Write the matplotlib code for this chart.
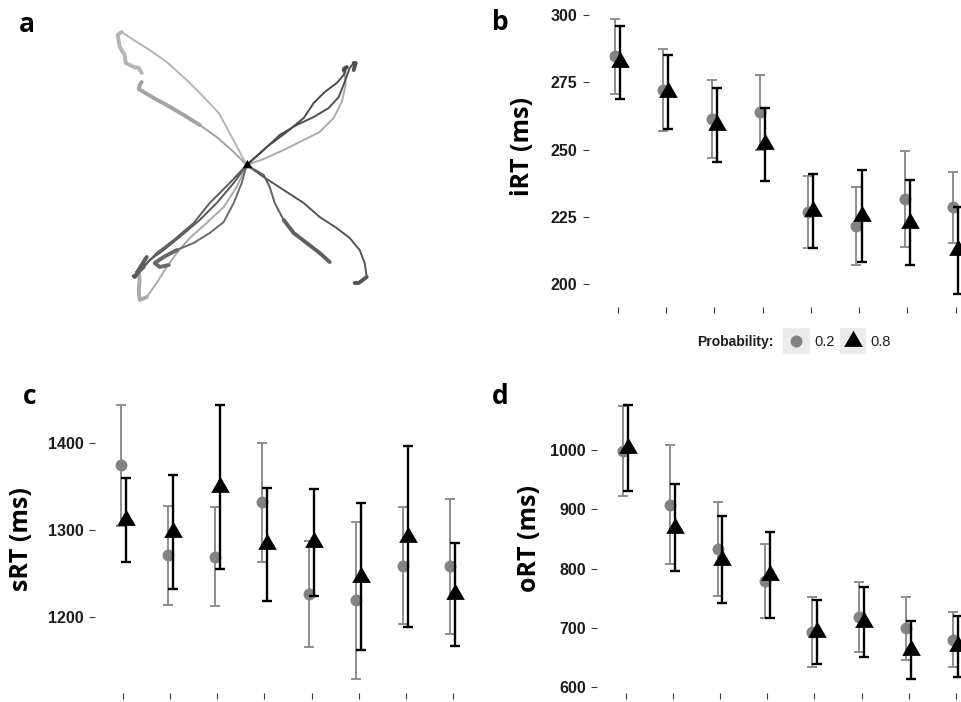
import numpy as np
import matplotlib.pyplot as plt
from matplotlib.lines import Line2D
from matplotlib.patches import Rectangle
from matplotlib.path import Path

# ---- data -------------------------------------------------------------
blocks = np.arange(1, 9)

# iRT (ms): mean and error bar limits per block, for each probability
irt_mean_02 = [284.6, 272.2, 261.4, 263.8, 226.8, 221.7, 231.5, 228.5]
irt_lo_02 = [270.8, 256.9, 246.9, 249.9, 213.4, 207.2, 213.7, 215.3]
irt_hi_02 = [298.4, 287.5, 275.9, 277.7, 240.2, 236.1, 249.3, 241.7]
irt_mean_08 = [282.5, 271.3, 259.1, 252.0, 227.2, 225.3, 222.8, 212.5]
irt_lo_08 = [268.9, 257.5, 245.2, 238.4, 213.4, 208.3, 206.9, 196.4]
irt_hi_08 = [296.0, 285.1, 273.0, 265.5, 241.0, 242.2, 238.7, 228.6]

# sRT (ms)
srt_mean_02 = [1374.6, 1271.3, 1269.7, 1332.0, 1226.8, 1219.3, 1259.3, 1258.5]
srt_lo_02 = [1305.4, 1214.2, 1213.0, 1263.6, 1165.9, 1128.7, 1191.9, 1180.5]
srt_hi_02 = [1443.7, 1328.4, 1326.4, 1400.4, 1287.7, 1310.0, 1326.8, 1336.4]
srt_mean_08 = [1311.9, 1298.3, 1349.8, 1283.7, 1286.2, 1246.6, 1292.7, 1226.3]
srt_lo_08 = [1263.2, 1233.0, 1255.2, 1218.8, 1224.5, 1162.1, 1188.5, 1167.4]
srt_hi_08 = [1360.5, 1363.6, 1444.4, 1348.7, 1347.9, 1331.0, 1396.9, 1285.1]

# oRT (ms)
ort_mean_02 = [998.6, 908.1, 833.1, 779.2, 692.7, 718.5, 699.4, 680.6]
ort_lo_02 = [923.0, 807.3, 753.9, 717.4, 633.7, 660.1, 646.1, 634.8]
ort_hi_02 = [1074.2, 1009.0, 912.4, 841.0, 751.7, 777.0, 752.8, 726.4]
ort_mean_08 = [1003.0, 869.1, 814.9, 789.3, 693.5, 710.7, 663.0, 669.4]
ort_lo_08 = [930.3, 796.1, 741.6, 717.4, 640.0, 651.7, 613.5, 618.0]
ort_hi_08 = [1075.8, 942.1, 888.2, 861.2, 747.0, 769.7, 712.4, 720.8]

# example cursor trajectories (px, relative to the start point, y up)
traj_a_x = [0, -8, -17, -28, -43, -60, -80, -97, -113, -125, -129, -127, -122, -121, -113, -108, -105]
traj_a_y = [0, 15, 32, 52, 68, 85, 103, 115, 125, 133, 130, 118, 110, 102, 98, 97, 92]
traj_b_x = [0, -13, -30, -47, -63, -80, -93, -103, -108, -107, -105]
traj_b_y = [0, 13, 28, 40, 50, 60, 67, 73, 76, 80, 83]
traj_c1_x = [0, 17, 33, 50, 67, 82, 92, 98, 103, 107, 109, 107]
traj_c1_y = [0, 15, 30, 40, 48, 57, 68, 83, 97, 102, 102, 95]
traj_c2_x = [0, 20, 40, 57, 67, 78, 90, 97, 100, 97]
traj_c2_y = [0, 18, 33, 47, 62, 73, 82, 90, 98, 95]
traj_c3_x = [0, 17, 37, 57, 73, 87, 95, 99, 98, 97]
traj_c3_y = [0, 6, 15, 25, 33, 47, 63, 80, 92, 97]
traj_d1_x = [0, 17, 37, 57, 73, 90, 103, 113, 118, 120, 112, 108]
traj_d1_y = [0, -12, -25, -38, -52, -63, -73, -85, -98, -112, -118, -118]
traj_d2_x = [0, 17, 23, 28, 37, 47, 60, 73, 83]
traj_d2_y = [0, -10, -22, -38, -55, -68, -78, -88, -97]
traj_l1_x = [0, -13, -30, -47, -67, -83, -97, -105, -112, -113]
traj_l1_y = [0, -18, -38, -55, -72, -85, -95, -103, -112, -111]
traj_l2_x = [0, -5, -13, -23, -37, -53, -70, -83, -92, -87, -78]
traj_l2_y = [0, -18, -38, -57, -68, -78, -85, -92, -98, -102, -100]
traj_l3_x = [0, -10, -23, -40, -57, -70, -80, -90, -100, -107, -108, -107, -108]
traj_l3_y = [0, -22, -42, -58, -73, -88, -102, -118, -132, -135, -125, -115, -108]
traj_l4_x = [0, -17, -37, -53, -73, -90, -103, -110, -102, -100]
traj_l4_y = [0, -18, -38, -58, -75, -88, -102, -108, -95, -92]

# ---- styling ----------------------------------------------------------
W, H = 962, 702
GRAY = "#838383"
GRAY_BAR = "#8e8e8e"
TICK_FONT = dict(family="Liberation Sans", weight="bold", size=11.5, color="#1c1c1c")
LABEL_FONT = dict(family="Open Sans", weight="bold", size=18, color="black")

# equilateral triangle marker centred on its centroid
tri = Path([(-1, -0.577), (1, -0.577), (0, 1.155), (-1, -0.577)],
           [Path.MOVETO, Path.LINETO, Path.LINETO, Path.CLOSEPOLY])


def fx(px):
    return px / W


def fy(py):
    return 1 - py / H


def box(left, top, right, bottom):
    return [fx(left), fy(bottom), (right - left) / W, (bottom - top) / H]


fig = plt.figure(figsize=(W / 100, H / 100), dpi=100)


def rt_panel(rect, ylim, yticks, m02, lo02, hi02, m08, lo08, hi08):
    ax = fig.add_axes(rect)
    m02, lo02, hi02 = map(np.asarray, (m02, lo02, hi02))
    m08, lo08, hi08 = map(np.asarray, (m08, lo08, hi08))
    ax.errorbar(blocks - 0.055, m02, yerr=[m02 - lo02, hi02 - m02], fmt="none",
                ecolor=GRAY_BAR, elinewidth=1.4, capsize=3.3, capthick=1.4, zorder=2)
    ax.plot(blocks - 0.055, m02, "o", color=GRAY, markersize=8.6, markeredgewidth=0, zorder=3)
    ax.errorbar(blocks + 0.05, m08, yerr=[m08 - lo08, hi08 - m08], fmt="none",
                ecolor="black", elinewidth=1.7, capsize=3.3, capthick=1.7, zorder=4)
    ax.plot(blocks + 0.05, m08, marker=tri, linestyle="none", color="black",
            markersize=15.5, markeredgewidth=0, zorder=5)
    ax.set_xlim(0.4, 8.6)
    ax.set_ylim(*ylim)
    ax.set_xticks(blocks)
    ax.set_xticklabels([])
    ax.set_yticks(yticks)
    ax.set_yticklabels([str(t) for t in yticks], fontdict=TICK_FONT)
    ax.tick_params(axis="both", direction="out", length=4.3, width=0.8, color="#3a3a3a")
    ax.tick_params(axis="y", pad=4)
    for s in ax.spines.values():
        s.set_visible(False)
    ax.patch.set_alpha(0)
    return ax


# ---- panel a: example trajectories -----------------------------------
ax_a = fig.add_axes(box(0, 0, 480, 330))
ax_a.set_xlim(-246.7, 233.3)
ax_a.set_ylim(-165, 165)
ax_a.axis("off")

trajectories = [
    (traj_a_x, traj_a_y, "#b4b4b4", 9),
    (traj_b_x, traj_b_y, "#a2a2a2", 3),
    (traj_c3_x, traj_c3_y, "#ababab", 8),
    (traj_l3_x, traj_l3_y, "#aaaaaa", 8),
    (traj_c1_x, traj_c1_y, "#505050", 9),
    (traj_c2_x, traj_c2_y, "#4a4a4a", 8),
    (traj_d1_x, traj_d1_y, "#555555", 9),
    (traj_d2_x, traj_d2_y, "#606060", 4),
    (traj_l1_x, traj_l1_y, "#585858", 7),
    (traj_l2_x, traj_l2_y, "#6a6a6a", 6),
    (traj_l4_x, traj_l4_y, "#5e5e5e", 6),
]
for tx, ty, col, tail in trajectories:
    ax_a.plot(tx, ty, color=col, lw=1.4, solid_capstyle="round", solid_joinstyle="round")
    ax_a.plot(tx[tail:], ty[tail:], color=col, lw=2.8, solid_capstyle="round",
              solid_joinstyle="round")
ax_a.plot(0, 0, marker=tri, color="black", markersize=8, markeredgewidth=0, zorder=10)

# ---- panels b, c, d -----------------------------------------------------
rt_panel(box(588.7, 5.6, 984.7, 307.4), (191.3, 303.5), [200, 225, 250, 275, 300],
         irt_mean_02, irt_lo_02, irt_hi_02, irt_mean_08, irt_lo_08, irt_hi_08)
rt_panel(box(95.1, 391.2, 480.9, 692.8), (1113, 1460), [1200, 1300, 1400],
         srt_mean_02, srt_lo_02, srt_hi_02, srt_mean_08, srt_lo_08, srt_hi_08)
rt_panel(box(597.4, 391.4, 984.4, 693.0), (590.4, 1098.9), [600, 700, 800, 900, 1000],
         ort_mean_02, ort_lo_02, ort_hi_02, ort_mean_08, ort_lo_08, ort_hi_08)

# axis titles
fig.text(fx(523), fy(147), "iRT (ms)", rotation=90, ha="center", va="center", **LABEL_FONT)
fig.text(fx(22), fy(539), "sRT (ms)", rotation=90, ha="center", va="center", **LABEL_FONT)
fig.text(fx(530), fy(538), "oRT (ms)", rotation=90, ha="center", va="center", **LABEL_FONT)

# panel letters
for letter, px, py in [("a", 27, 24), ("b", 500, 22), ("c", 30, 397), ("d", 500, 396)]:
    fig.text(fx(px), fy(py), letter, ha="center", va="center",
             family="Open Sans", weight="bold", size=19)

# legend
fig.text(fx(697), fy(342), "Probability:", ha="left", va="center",
         family="Liberation Sans", weight="bold", size=10, color="#1c1c1c")
for left, right in [(783, 810), (840, 866)]:
    fig.add_artist(Rectangle((fx(left), fy(354)), (right - left) / W, 26 / H,
                             transform=fig.transFigure, facecolor="#ebebeb",
                             edgecolor="none"))
fig.add_artist(Line2D([fx(796.5)], [fy(341)], transform=fig.transFigure, marker="o",
                      color=GRAY, markersize=8.6, markeredgewidth=0, linestyle="none"))
fig.add_artist(Line2D([fx(853)], [fy(341)], transform=fig.transFigure, marker=tri,
                      color="black", markersize=15.5, markeredgewidth=0, linestyle="none"))
fig.text(fx(814), fy(342), "0.2", ha="left", va="center",
         family="Liberation Sans", size=10.5, color="#1c1c1c")
fig.text(fx(870), fy(342), "0.8", ha="left", va="center",
         family="Liberation Sans", size=10.5, color="#1c1c1c")

fig.savefig("out.png", dpi=100)
